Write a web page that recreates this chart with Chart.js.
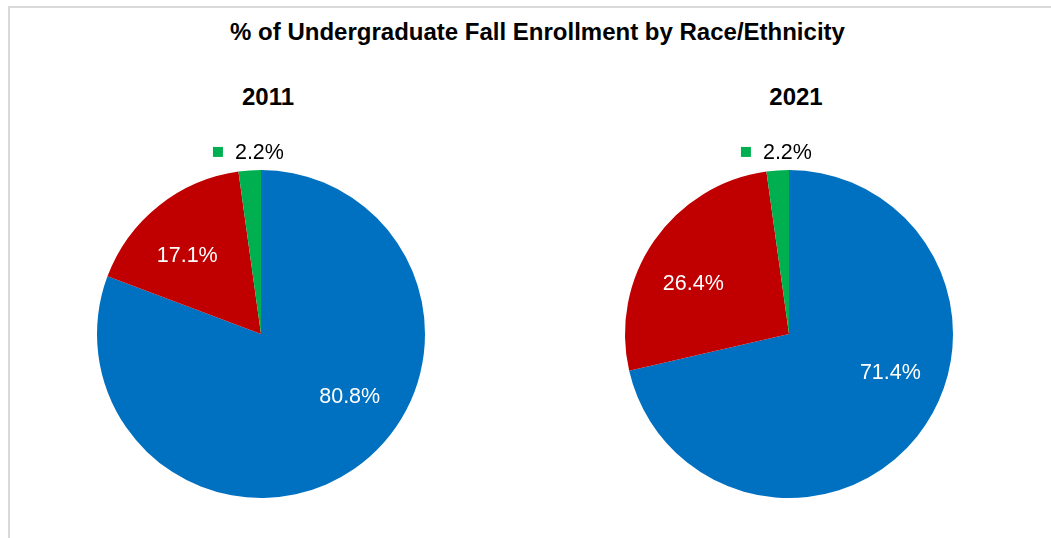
<!DOCTYPE html>
<html>
<head>
<meta charset="utf-8">
<script src="https://cdn.jsdelivr.net/npm/chart.js@4"></script>
<style>
  body { margin: 0; background: #fff; width: 1051px; height: 538px; overflow: hidden; position: relative;
         font-family: "Liberation Sans", Arial, sans-serif; }
  #frame { position: absolute; left: 8px; top: 6px; width: 1100px; height: 600px;
           border-left: 2px solid #d9d9d9; border-top: 2px solid #d9d9d9; }
  .title { position: absolute; left: 0; width: 1075px; top: 18px; text-align: center;
           font-weight: bold; font-size: 24px; line-height: 28px; color: #000; }
  .sub { position: absolute; top: 83px; width: 200px; text-align: center;
         font-weight: bold; font-size: 24px; line-height: 28px; color: #000; }
  canvas { position: absolute; }
</style>
</head>
<body>
<div id="frame"></div>
<div class="title">% of Undergraduate Fall Enrollment by Race/Ethnicity</div>
<div class="sub" style="left:168px">2011</div>
<div class="sub" style="left:696px">2021</div>
<canvas id="pie2011" width="400" height="400" style="left:61px;top:134px"></canvas>
<canvas id="pie2021" width="400" height="400" style="left:589px;top:134px"></canvas>
<script>
const groups = ['Group A', 'Group B', 'Group C'];
const values2011 = [80.8, 17.1, 2.2];
const values2021 = [71.4, 26.4, 2.2];
const colors = ['#0070C0', '#C00000', '#00B050'];

// Excel-like data labels: big slices inside in white, tiny ones outside with a legend key
const sliceLabels = {
    id: 'sliceLabels',
    afterDatasetsDraw(chart) {
        const ctx = chart.ctx;
        const meta = chart.getDatasetMeta(0);
        const vals = chart.data.datasets[0].data;
        ctx.save();
        ctx.font = '21.5px "Liberation Sans", Arial, sans-serif';
        ctx.textBaseline = 'middle';
        meta.data.forEach(function (arc, i) {
            const p = arc.getProps(['x', 'y', 'startAngle', 'endAngle', 'outerRadius'], true);
            const txt = vals[i].toFixed(1) + '%';
            if (vals[i] < 5) {
                const a = (p.startAngle + p.endAngle) / 2;
                const cx = p.x + Math.cos(a) * (p.outerRadius + 18);
                const cy = p.y + Math.sin(a) * (p.outerRadius + 18);
                const tw = ctx.measureText(txt).width;
                const total = 10 + 12 + tw;
                const left = cx - total / 2;
                ctx.fillStyle = colors[i];
                ctx.fillRect(left, cy - 5.5, 10, 10);
                ctx.fillStyle = '#000';
                ctx.textAlign = 'left';
                ctx.fillText(txt, left + 22, cy + 1);
            } else {
                const a = p.startAngle + (p.endAngle - p.startAngle) * 0.43;
                const r = p.outerRadius * 0.66;
                ctx.fillStyle = '#fff';
                ctx.textAlign = 'center';
                ctx.fillText(txt, p.x + Math.cos(a) * r, p.y + Math.sin(a) * r + 1);
            }
        });
        ctx.restore();
    }
};

function makePie(id, values) {
    return new Chart(document.getElementById(id), {
        type: 'pie',
        data: {
            labels: groups,
            datasets: [{
                data: values,
                backgroundColor: colors,
                borderWidth: 0
            }]
        },
        options: {
            responsive: false,
            animation: false,
            layout: { padding: 36 },
            plugins: {
                legend: { display: false },
                tooltip: { enabled: false },
                title: { display: false }
            }
        },
        plugins: [sliceLabels]
    });
}

makePie('pie2011', values2011);
makePie('pie2021', values2021);
</script>
</body>
</html>
